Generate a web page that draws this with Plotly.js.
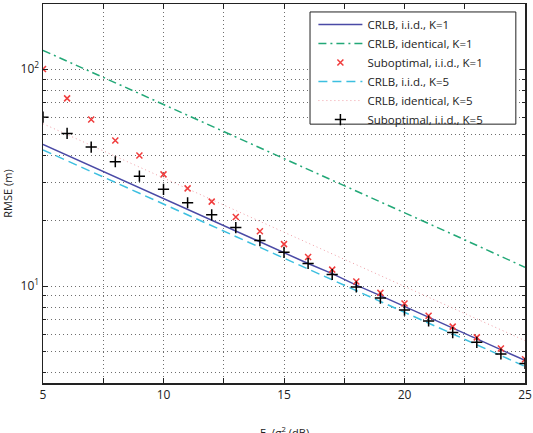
<!DOCTYPE html>
<html>
<head>
<meta charset="utf-8">
<script src="https://cdn.plot.ly/plotly-3.0.1.min.js"></script>
<style>html,body{margin:0;padding:0;background:#fff;}#chart{width:533px;height:433px;}</style>
</head>
<body>
<div id="chart"></div>
<script>
const snr = [5,6,7,8,9,10,11,12,13,14,15,16,17,18,19,20,21,22,23,24,25];
const crlbIidK1 = [45.0,40.1,35.8,31.9,28.4,25.4,22.6,20.2,18.0,16.0,14.3,12.7,11.4,10.1,9.03,8.05,7.18,6.40,5.71,5.09,4.54];
const crlbIdentK1 = [122,109,97,86.5,77.1,68.7,61.2,54.6,48.7,43.4,38.7,34.4,30.7,27.4,24.4,21.7,19.4,17.3,15.4,13.7,12.2];
const subIidK1 = [100,73.3,58.6,46.9,40.0,32.7,28.2,24.5,20.8,17.9,15.6,13.6,11.9,10.5,9.3,8.3,7.3,6.5,5.8,5.15,4.6];
const crlbIidK5 = [42.4,37.8,33.7,30.0,26.8,23.9,21.3,19.0,16.9,15.1,13.4,12.0,10.7,9.52,8.49,7.56,6.74,6.01,5.36,4.77,4.26];
const crlbIdentK5 = [56,49.9,44.5,39.6,35.3,31.5,28.1,25.0,22.3,19.9,17.7,15.8,14.1,12.6,11.2,9.97,8.89,7.92,7.06,6.29,5.6];
const subIidK5 = [60,50.5,43.7,37.4,32.1,27.9,24.2,21.3,18.6,16.2,14.3,12.7,11.3,9.9,8.8,7.75,6.9,6.1,5.5,4.86,4.4];

const names = ['CRLB, i.i.d., K=1','CRLB, identical, K=1','Suboptimal, i.i.d., K=1','CRLB, i.i.d., K=5','CRLB, identical, K=5','Suboptimal, i.i.d., K=5'];
const xTickVals = [5,7.5,10,12.5,15,17.5,20,22.5,25];
const xTickText = ['5','','10','','15','','20','','25'];
const yMajor = [10,100];
const yMajorText = ['10<sup>1</sup>','10<sup>2</sup>'];
const yMinor = [4,5,6,7,8,9,20,30,40,50,60,70,80,90];

const gridCol = '#6e6e6e';
const gridDash = '1px,3px';

const traces = [
  {x:snr, y:crlbIidK1, name:names[0], mode:'lines', line:{color:'#4a4aa6', width:1.5}},
  {x:snr, y:crlbIdentK1, name:names[1], mode:'lines', line:{color:'#22a877', width:1.5, dash:'8px,4px,2px,4px'}},
  {x:snr, y:subIidK1, name:names[2], mode:'markers', marker:{symbol:'x-thin', size:6, line:{color:'#f03c3c', width:1.5}}},
  {x:snr, y:crlbIidK5, name:names[3], mode:'lines', line:{color:'#3cbfe0', width:1.5, dash:'9px,5px'}},
  {x:snr, y:crlbIdentK5, name:names[4], mode:'lines', line:{color:'#f0a0a8', width:1, dash:'1px,3px'}},
  {x:snr, y:subIidK5, name:names[5], mode:'markers', marker:{symbol:'cross-thin', size:8, line:{color:'#000000', width:1.5}}}
];

const layout = {
  width:533, height:433,
  margin:{l:43, r:8, t:4, b:50},
  paper_bgcolor:'#fff', plot_bgcolor:'#fff',
  font:{family:'Open Sans, sans-serif', size:11, color:'#222'},
  showlegend:true,
  legend:{x:0.561, y:0.984, xanchor:'left', yanchor:'top', bgcolor:'rgba(0,0,0,0)', borderwidth:0,
    font:{size:11.5, color:'#222'}, tracegroupgap:0, itemwidth:44},
  shapes:[{type:'rect', xref:'paper', yref:'paper', x0:0.554, x1:0.981, y0:0.683, y1:0.979, layer:'above',
    fillcolor:'#ffffff', line:{color:'#222', width:1}}],
  xaxis:{range:[5,25], tickmode:'array', tickvals:xTickVals, ticktext:xTickText, ticks:'inside', ticklen:5, tickcolor:'#222',
    showline:true, linecolor:'#222', linewidth:1.5, mirror:'ticks', showgrid:true, gridcolor:gridCol, griddash:gridDash, gridwidth:1,
    zeroline:false, tickfont:{size:12}},
  yaxis:{type:'log', range:[0.553,2.30], tickmode:'array', tickvals:yMajor, ticktext:yMajorText, ticks:'inside', ticklen:5, tickcolor:'#222',
    showline:true, linecolor:'#222', linewidth:1.5, mirror:'ticks', showgrid:true, gridcolor:gridCol, griddash:gridDash, gridwidth:1,
    zeroline:false, tickfont:{size:12},
    minor:{tickmode:'array', tickvals:yMinor, ticks:'inside', ticklen:3, tickcolor:'#222', showgrid:true, gridcolor:gridCol, griddash:gridDash, gridwidth:1},
    title:{text:'RMSE (m)', font:{size:11}, standoff:10}},
  annotations:[{xref:'paper', yref:'paper', x:0.5, y:0, xanchor:'center', yanchor:'top', yshift:-39, showarrow:false,
    text:'E<sub>b</sub>/σ<sup>2</sup> (dB)', font:{size:11, color:'#222'}}]
};

Plotly.newPlot('chart', traces, layout, {displayModeBar:false, staticPlot:true});
</script>
</body>
</html>
